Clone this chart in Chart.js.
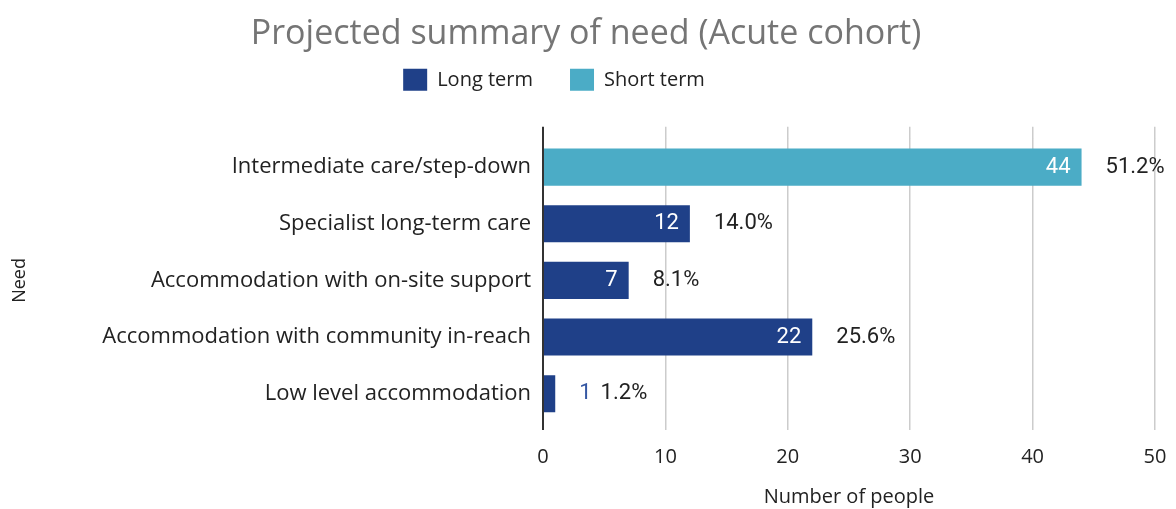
<!DOCTYPE html>
<html>
<head>
<meta charset="utf-8">
<script src="https://cdn.jsdelivr.net/npm/chart.js@4"></script>
<style>
  html, body { margin: 0; padding: 0; background: #fff; }
  #wrap { width: 1176px; height: 509px; }
</style>
</head>
<body>
<div id="wrap"><canvas id="needChart"></canvas></div>
<script>
const needs = [
    "Intermediate care/step-down",
    "Specialist long-term care",
    "Accommodation with on-site support",
    "Accommodation with community in-reach",
    "Low level accommodation"
];
const longTerm = [null, 12, 7, 22, 1];
const shortTerm = [44, null, null, null, null];
const xMin = 0;
const xMax = 50;
const xStep = 10;

const LONG_COLOR = "#1F4088";
const SHORT_COLOR = "#4BACC6";

// Count inside the bar (or after it if it doesn't fit) + share of total
const barLabels = {
    id: "barLabels",
    afterDatasetsDraw(chart) {
        const ctx = chart.ctx;
        const total = needs.reduce((s, _, i) => s + (longTerm[i] || 0) + (shortTerm[i] || 0), 0);
        ctx.save();
        ctx.font = "22px Roboto";
        ctx.textBaseline = "middle";
        needs.forEach((_, i) => {
            let bar = null, value = null;
            chart.data.datasets.forEach((ds, d) => {
                if (ds.data[i] != null) {
                    bar = chart.getDatasetMeta(d).data[i];
                    value = ds.data[i];
                }
            });
            if (!bar) return;
            const txt = String(value);
            const w = ctx.measureText(txt).width;
            const barW = bar.x - bar.base;
            let pctX = bar.x + 24;
            if (w + 20 <= barW) {
                ctx.fillStyle = "#ffffff";
                ctx.textAlign = "right";
                ctx.fillText(txt, bar.x - 11, bar.y);
            } else {
                ctx.fillStyle = "#3557A3";
                ctx.textAlign = "left";
                ctx.fillText(txt, bar.x + 24, bar.y);
                pctX = bar.x + 24 + w + 9;
            }
            ctx.fillStyle = "#222222";
            ctx.textAlign = "left";
            ctx.fillText((value / total * 100).toFixed(1) + "%", pctX, bar.y);
        });
        ctx.restore();
    }
};

// the legend sits a little left of the title in the original
const legendShift = {
    id: "legendShift",
    afterLayout(chart) {
        chart.legend.left -= 32;
        chart.legend.right -= 32;
    }
};

const gridColor = (c) => (c.tick && c.tick.value === 0) ? "#333333" : "#cccccc";
const gridWidth = (c) => (c.tick && c.tick.value === 0) ? 2 : 1.5;

new Chart(document.getElementById("needChart"), {
    type: "bar",
    data: {
        labels: needs,
        datasets: [
            { label: "Long term", data: longTerm, backgroundColor: LONG_COLOR },
            { label: "Short term", data: shortTerm, backgroundColor: SHORT_COLOR }
        ]
    },
    options: {
        indexAxis: "y",
        responsive: true,
        maintainAspectRatio: false,
        animation: false,
        layout: { padding: { left: 17, right: 21, top: 0, bottom: 0 } },
        datasets: { bar: { categoryPercentage: 1, barPercentage: 0.655 } },
        plugins: {
            title: {
                display: true,
                text: "Projected summary of need (Acute cohort)",
                color: "#757575",
                font: { family: "Open Sans", size: 34, weight: "normal" },
                padding: { top: 14, bottom: -23 }
            },
            legend: {
                position: "top",
                labels: {
                    color: "#222222",
                    font: { family: "Open Sans", size: 20 },
                    boxWidth: 24,
                    boxHeight: 22,
                    padding: 37
                }
            },
            tooltip: { enabled: false }
        },
        scales: {
            x: {
                type: "linear",
                position: "bottom",
                min: xMin,
                max: xMax,
                stacked: true,
                ticks: {
                    stepSize: xStep,
                    color: "#222222",
                    font: { family: "Open Sans", size: 20 },
                    padding: 15
                },
                grid: { color: gridColor, lineWidth: gridWidth, tickColor: gridColor, tickLength: 8 },
                border: { display: false },
                title: {
                    display: true,
                    text: "Number of people",
                    color: "#222222",
                    font: { family: "Open Sans", size: 20 },
                    padding: { top: 4, bottom: 0 }
                },
                afterFit(scale) {
                    scale.height = 87;
                    scale.paddingLeft = 0;
                    scale.paddingRight = 0;
                }
            },
            xTop: {
                type: "linear",
                position: "top",
                min: xMin,
                max: xMax,
                ticks: { display: false, stepSize: xStep },
                grid: { drawOnChartArea: false, tickColor: gridColor, lineWidth: gridWidth, tickLength: 12 },
                border: { display: false },
                afterFit(scale) {
                    scale.height = 38;
                    scale.paddingLeft = 0;
                    scale.paddingRight = 0;
                }
            },
            y: {
                stacked: true,
                grid: { display: false, drawTicks: false },
                border: { display: false },
                ticks: {
                    color: "#222222",
                    font: { family: "Open Sans", size: 22 },
                    padding: 12
                },
                title: {
                    display: true,
                    text: "Need",
                    color: "#222222",
                    font: { family: "Open Sans", size: 18 },
                    padding: { top: -8, bottom: 0 }
                },
                afterFit(scale) { scale.width = 526; }
            }
        }
    },
    plugins: [barLabels, legendShift]
});
</script>
</body>
</html>
